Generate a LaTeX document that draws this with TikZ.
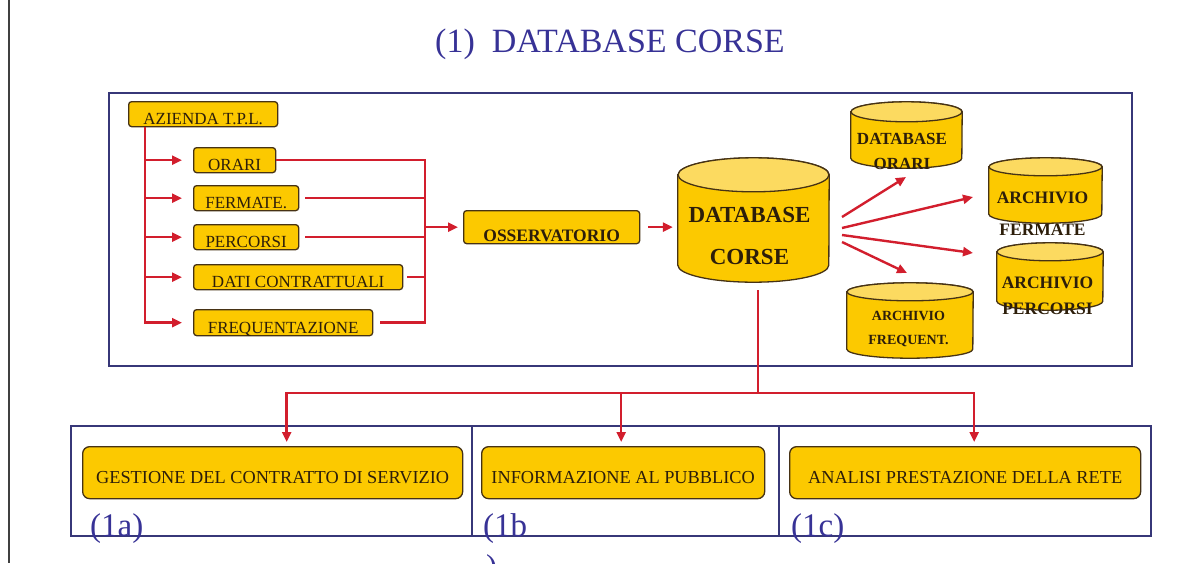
\documentclass[tikz,border=0pt]{standalone}
\usepackage{fontspec}
\setmainfont{Liberation Serif}
\usetikzlibrary{arrows.meta, positioning}

\definecolor{gold}{RGB}{252,201,0}
\definecolor{goldtop}{RGB}{252,218,96}
\definecolor{boxline}{RGB}{70,50,20}
\definecolor{inktext}{RGB}{45,30,10}
\definecolor{flowred}{RGB}{210,30,45}
\definecolor{framecol}{RGB}{55,55,120}
\definecolor{titleblue}{RGB}{55,50,150}

\tikzset{
  frame/.style={draw=framecol, line width=1.3pt},
  redline/.style={draw=flowred, line width=2.4pt},
  flow/.style={redline, -{Triangle[length=10pt,width=9pt]}},
  srcbox/.style={draw=boxline, fill=gold, rounded corners=3pt, line width=1.3pt,
    anchor=north west, inner sep=0pt, minimum height=25pt, text=inktext,
    font=\fontsize{17}{20}\selectfont, text height=23pt, text depth=2pt},
  outbox/.style={draw=boxline, fill=gold, rounded corners=7pt, line width=1.3pt,
    anchor=north west, inner sep=0pt, minimum height=52pt, text=inktext,
    font=\fontsize{18.3}{22}\selectfont, text height=24pt, text depth=2pt},
  drumline/.style={draw=boxline, line width=1.3pt},
  dbtext/.style={align=center, inner sep=0pt, text=inktext},
  lbl/.style={anchor=base west, inner sep=0pt, text=titleblue,
    font=\fontsize{33}{40}\selectfont}
}

% drum: name, cx, cy, half width, half height, end radius
\newcommand{\dbdrum}[6]{%
  \node[inner sep=0pt, minimum width=2*#4pt, minimum height=2*#5pt] (#1) at (#2,#3) {};
  \filldraw[drumline, fill=gold] ([yshift=-#6pt]#1.north west) -- ([yshift=#6pt]#1.south west)
    arc[start angle=180, end angle=360, x radius=#4pt, y radius=#6pt]
    -- ([yshift=-#6pt]#1.north east)
    arc[start angle=0, end angle=180, x radius=#4pt, y radius=#6pt] -- cycle;
  \filldraw[drumline, fill=goldtop] ([yshift=-#6pt]#1.north) ellipse[x radius=#4pt, y radius=#6pt];
}

\begin{document}
\begin{tikzpicture}[x=1pt, y=-1pt]
  \useasboundingbox (0,0) rectangle (1190,563);

  % Frames
  \draw[line width=1.2pt, black!75] (9,0) -- (9,563);
  \draw[frame] (109,93) rectangle (1132,366);
  \draw[frame] (71,426) rectangle (1151,536);
  \draw[frame] (472,426) -- (472,536);
  \draw[frame] (779,426) -- (779,536);

  % Title
  \node[font=\fontsize{34}{40}\selectfont, text=titleblue, anchor=base, inner sep=0pt]
    (title) at (610,52) {(1)\ \ DATABASE CORSE};

  % Sources
  \node[srcbox, minimum width=149pt] (azienda) at (128,101) {AZIENDA T.P.L.};
  \node[srcbox, minimum width=82pt] (orari) at (193,147) {ORARI};
  \node[srcbox, minimum width=105pt] (fermate) at (193,185) {FERMATE.};
  \node[srcbox, minimum width=105pt] (percorsi) at (193,224) {PERCORSI};
  \node[srcbox, minimum width=209pt] (dati) at (193,264) {DATI CONTRATTUALI};
  \node[srcbox, minimum width=179pt, minimum height=26pt] (freq) at (193,309) {FREQUENTAZIONE};

  \node[srcbox, minimum width=176pt, minimum height=33pt, text height=31pt,
    font=\fontsize{17.5}{20}\bfseries] (osserv) at (463,210) {OSSERVATORIO};

  % Databases
  \dbdrum{dbcorse}{753.5}{220}{75.5}{62}{17}
  \dbdrum{dbor}{906.5}{135}{55.5}{33}{10}
  \dbdrum{arfer}{1045.5}{190.5}{56.5}{32.5}{9}
  \dbdrum{arper}{1050}{276.5}{53}{33.5}{9}
  \dbdrum{arfreq}{910}{320.5}{63}{37.5}{9}

  \node[dbtext, font=\fontsize{23}{42}\bfseries] (dbcorsetxt) at (749.5,236) {DATABASE\\CORSE};
  \node[dbtext, font=\fontsize{17}{25}\bfseries] (dbortxt) at (902,151.5) {DATABASE\\ORARI};
  \node[dbtext, font=\fontsize{17.5}{32}\bfseries] (arfertxt) at (1042.5,213.5) {ARCHIVIO\\FERMATE};
  \node[dbtext, font=\fontsize{17.5}{26}\bfseries] (arpertxt) at (1047.5,296) {ARCHIVIO\\PERCORSI};
  \node[dbtext, font=\fontsize{14}{24}\bfseries] (arfreqtxt) at (908.5,328.5) {ARCHIVIO\\FREQUENT.};

  % Services
  \node[outbox, minimum width=380pt] (gestione) at (82,446) {GESTIONE DEL CONTRATTO DI SERVIZIO};
  \node[outbox, minimum width=283pt] (informa) at (481,446) {INFORMAZIONE AL PUBBLICO};
  \node[outbox, minimum width=351pt] (analisi) at (789,446) {ANALISI PRESTAZIONE DELLA RETE};

  \node[lbl] (lbla) at (90,536) {(1a)};
  \node[lbl] (lblb) at (483,536) {(1b};
  \node[lbl] (lblbclose) at (486,577) {)};
  \node[lbl] (lblc) at (791,536) {(1c)};

  % Connectors
  \coordinate (trunk) at ([xshift=17pt]azienda.south west);
  \draw[flow, shorten >=11pt] (trunk) |- (freq.west);
  \foreach \src in {orari, fermate, percorsi, dati}
    \draw[flow, shorten >=11pt] (trunk |- \src.west) -- (\src.west);

  \coordinate (bus) at (425,0);
  \draw[redline] (orari.east) -| (bus |- freq.east) -- ([xshift=7pt]freq.east);
  \foreach \src/\gap in {fermate/6, percorsi/6, dati/4}
    \draw[redline] ([xshift=\gap pt]\src.east) -- (bus |- \src.east);
  \draw[flow, shorten >=5pt] (bus |- osserv.west) -- (osserv.west);
  \draw[flow, shorten <=8pt, shorten >=5pt] (osserv.east) -- (osserv.east -| dbcorse.west);

  \draw[flow] ([shift={(88.5,-3)}]dbcorse.center) -- ([shift={(-0.5,42)}]dbor.center);
  \draw[flow] ([shift={(88.5,8)}]dbcorse.center) -- ([shift={(-72.5,6.5)}]arfer.center);
  \draw[flow] ([shift={(88.5,15)}]dbcorse.center) -- ([shift={(-77,-23.5)}]arper.center);
  \draw[flow] ([shift={(88.5,22)}]dbcorse.center) -- ([shift={(-3,-47.5)}]arfreq.center);

  \coordinate (split) at (758,393);
  \draw[redline] ([shift={(4.5,70)}]dbcorse.center) -- (split);
  \draw[flow, shorten >=4pt] (split) -| ([xshift=14pt]gestione.north);
  \draw[flow, shorten >=4pt] (split) -| ([xshift=-2pt]informa.north);
  \draw[flow, shorten >=4pt] (split) -| ([xshift=9pt]analisi.north);
\end{tikzpicture}
\end{document}
